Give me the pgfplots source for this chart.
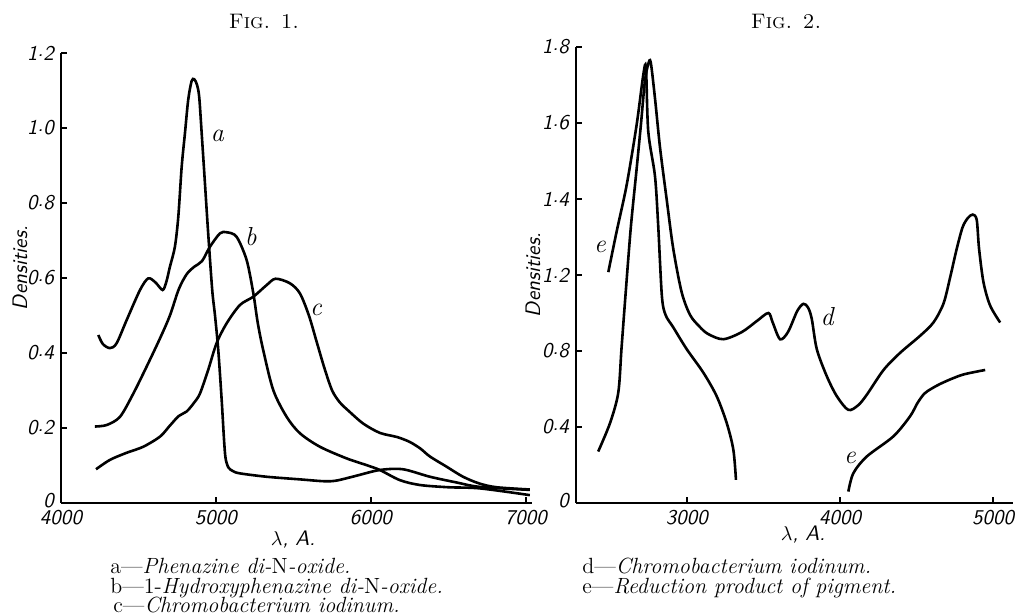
\documentclass[border=0pt]{standalone}
\usepackage{fontspec}
\usepackage{pgfplots}
\pgfplotsset{compat=1.18}

% Fig. 1: wavelength (A) vs density
\pgfplotstableread{
x y
4241 0.448
4270 0.424
4316 0.413
4359 0.426
4424 0.488
4510 0.568
4563 0.599
4610 0.588
4656 0.568
4680 0.590
4703 0.630
4735 0.683
4757 0.763
4779 0.897
4800 0.986
4821 1.075
4843 1.125
4860 1.130
4878 1.115
4892 1.083
4908 0.986
4929 0.853
4950 0.719
4976 0.568
4994 0.500
5015 0.408
5037 0.275
5052 0.170
5062 0.120
5080 0.095
5110 0.085
5155 0.079
5327 0.070
5542 0.063
5700 0.058
5781 0.060
5900 0.072
6058 0.088
6206 0.090
6381 0.070
6550 0.055
6703 0.043
7026 0.035
}\curvea
\pgfplotstableread{
x y
4219 0.204
4295 0.208
4381 0.230
4467 0.292
4553 0.364
4639 0.439
4703 0.500
4760 0.570
4811 0.610
4860 0.630
4910 0.645
4961 0.683
5026 0.719
5069 0.722
5133 0.710
5198 0.648
5241 0.560
5270 0.480
5305 0.408
5370 0.301
5456 0.230
5542 0.186
5671 0.150
5843 0.119
5972 0.101
6058 0.088
6187 0.061
6316 0.048
6500 0.042
6703 0.039
7026 0.021
}\curveb
\pgfplotstableread{
x y
4226 0.090
4316 0.115
4424 0.134
4531 0.150
4639 0.177
4700 0.205
4760 0.232
4811 0.244
4860 0.268
4897 0.292
4950 0.355
5004 0.426
5069 0.479
5155 0.528
5241 0.550
5327 0.581
5385 0.598
5477 0.586
5542 0.559
5600 0.500
5650 0.430
5700 0.360
5750 0.300
5800 0.268
5850 0.248
5950 0.212
6058 0.187
6168 0.176
6250 0.163
6320 0.145
6381 0.124
6488 0.097
6595 0.070
6700 0.052
6811 0.042
7026 0.036
}\curvec

% Fig. 2: y is the position on the drawn scale (ticks every 0.4)
\pgfplotstableread{
x y
2420 0.271
2497 0.420
2551 0.580
2572 0.810
2597 1.080
2633 1.450
2670 1.750
2700 2.000
2725 2.220
2747 2.310
2763 2.320
2791 2.130
2824 1.870
2867 1.600
2910 1.340
2965 1.110
3020 0.990
3080 0.930
3137 0.890
3237 0.862
3359 0.900
3460 0.960
3532 1.000
3560 0.950
3608 0.862
3660 0.900
3720 1.010
3760 1.048
3790 1.030
3815 0.970
3848 0.810
3913 0.668
3979 0.562
4054 0.490
4119 0.515
4175 0.570
4284 0.700
4392 0.790
4523 0.880
4610 0.950
4676 1.050
4720 1.190
4760 1.330
4800 1.450
4835 1.500
4867 1.518
4893 1.490
4908 1.340
4937 1.162
4980 1.040
5046 0.950
}\curved
\pgfplotstableread{
x y
2486 1.215
2540 1.427
2606 1.674
2671 1.990
2715 2.256
2732 2.290
2747 1.956
2791 1.720
2812 1.460
2836 1.090
2860 0.990
2910 0.925
2998 0.810
3107 0.686
3194 0.562
3260 0.420
3303 0.280
3320 0.122
}\curveeone
\pgfplotstableread{
x y
4054 0.060
4087 0.157
4175 0.245
4349 0.351
4458 0.457
4505 0.525
4550 0.575
4600 0.603
4676 0.635
4800 0.675
4948 0.700
}\curveetwo

\newcommand{\md}{\raisebox{0.35ex}{.}}
\pgfplotsset{
  spec/.style={
    scale only axis,
    axis x line=bottom, axis y line=left,
    axis line style={-, line width=1pt},
    xtick align=inside, ytick align=inside,
    major tick length=3pt,
    tick style={line width=0.8pt, black},
    every tick label/.append style={font=\sffamily\itshape\fontsize{10.5}{12}\selectfont},
    clip=false,
  },
  curve/.style={black, line width=1.3pt, smooth, tension=0.5, no marks},
}
\tikzset{lbl/.style={font=\itshape\fontsize{13}{14}\selectfont}}
\newcommand{\dens}{\sffamily\itshape\fontsize{10.5}{12}\selectfont}

\begin{document}
\begin{tikzpicture}
\useasboundingbox (0,0) rectangle (507.5pt,307.5pt);

\begin{axis}[spec, at={(30.5pt,56pt)}, anchor=south west,
    width=235.5pt, height=225pt,
    xmin=4000, xmax=7040, ymin=0, ymax=1.2,
    xtick={4000,5000,6000,7000}, xticklabels={4000,5000,6000,7000},
    ytick={0,0.2,0.4,0.6,0.8,1.0,1.2},
    yticklabels={\raisebox{3pt}{0},0\md2,0\md4,0\md6,0\md8,1\md0,1\md2}]
  \addplot[curve] table {\curvea};
  \addplot[curve] table {\curveb};
  \addplot[curve] table {\curvec};
  \node[lbl] at (axis cs:5010,0.98) {a};
  \node[lbl] at (axis cs:5225,0.71) {b};
  \node[lbl] at (axis cs:5645,0.515) {c};
\end{axis}

\begin{axis}[spec, at={(288pt,56pt)}, anchor=south west,
    width=218.5pt, height=228pt,
    xmin=2275, xmax=5130, ymin=0, ymax=2.4,
    xtick={3000,4000,5000}, xticklabels={3000,4000,5000},
    ytick={0,0.4,0.8,1.2,1.6,2.0,2.4},
    yticklabels={\raisebox{3pt}{0},0\md4,0\md8,1\md2,1\md4,1\md6,1\md8}]
  \addplot[curve] table {\curved};
  \addplot[curve] table {\curveeone};
  \addplot[curve] table {\curveetwo};
  \node[lbl] at (axis cs:3915,0.98) {d};
  \node[lbl] at (axis cs:2431,1.35) {e};
  \node[lbl] at (axis cs:4065,0.24) {e};
\end{axis}

\node[font=\fontsize{10.5}{12}\selectfont] at (132pt,296.5pt) {\textsc{Fig. 1.}};
\node[font=\fontsize{10.5}{12}\selectfont] at (393pt,296.5pt) {\textsc{Fig. 2.}};
\node[rotate=90] at (10pt,173.5pt) {\dens Densities.};
\node[rotate=90] at (266.5pt,170pt) {\dens Densities.};
\node at (146.5pt,37.5pt) {$\lambda${\dens, A.}};
\node at (401.5pt,40pt) {$\lambda${\dens, A.}};

\begin{scope}[every node/.style={anchor=base west, inner sep=0pt, font=\fontsize{11}{12}\selectfont}]
\node at (55pt,21pt) {a---\textit{Phenazine di-}N\textit{-oxide.}};
\node at (55pt,11pt) {b---1-\textit{Hydroxyphenazine di-}N\textit{-oxide.}};
\node at (56.5pt,1.5pt) {c---\textit{Chromobacterium iodinum.}};
\node at (291pt,21pt) {d---\textit{Chromobacterium iodinum.}};
\node at (291pt,11pt) {e---\textit{Reduction product of pigment.}};
\end{scope}
\end{tikzpicture}
\end{document}
